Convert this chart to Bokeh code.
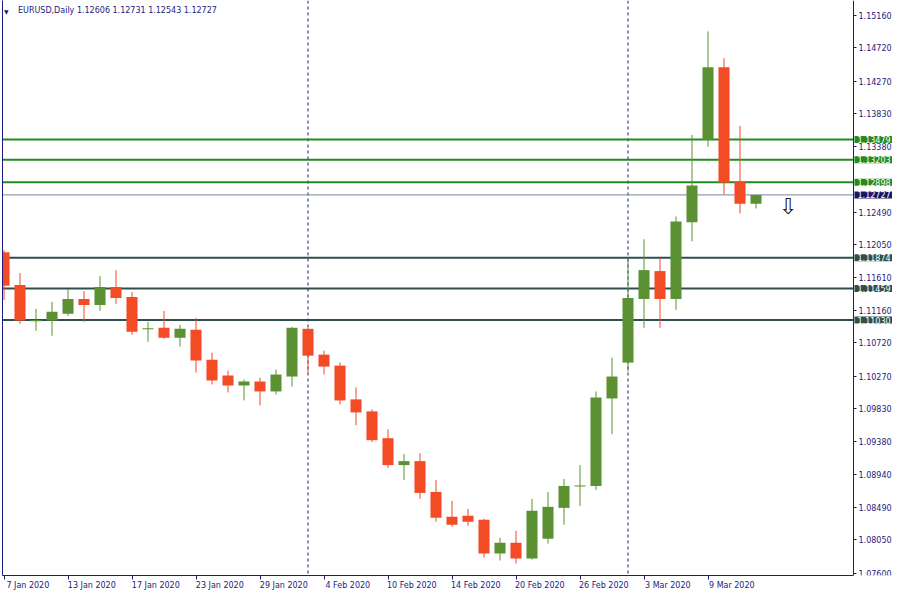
from bokeh.plotting import figure
from bokeh.models import (Range1d, LinearAxis, FixedTicker, Span, Label,
                          ColumnDataSource, PrintfTickFormatter)
from bokeh.core.properties import value
from bokeh.embed import file_html
from bokeh.resources import INLINE

symbol = "EURUSD"
period = "Daily"

dates = ["7 Jan 2020", "8 Jan 2020", "9 Jan 2020", "10 Jan 2020", "13 Jan 2020",
         "14 Jan 2020", "15 Jan 2020", "16 Jan 2020", "17 Jan 2020", "20 Jan 2020",
         "21 Jan 2020", "22 Jan 2020", "23 Jan 2020", "24 Jan 2020", "27 Jan 2020",
         "28 Jan 2020", "29 Jan 2020", "30 Jan 2020", "31 Jan 2020",
         "3 Feb 2020", "4 Feb 2020", "5 Feb 2020", "6 Feb 2020", "7 Feb 2020",
         "10 Feb 2020", "11 Feb 2020", "12 Feb 2020", "13 Feb 2020", "14 Feb 2020",
         "17 Feb 2020", "18 Feb 2020", "19 Feb 2020", "20 Feb 2020", "21 Feb 2020",
         "24 Feb 2020", "25 Feb 2020", "26 Feb 2020", "27 Feb 2020", "28 Feb 2020",
         "2 Mar 2020", "3 Mar 2020", "4 Mar 2020", "5 Mar 2020", "6 Mar 2020",
         "9 Mar 2020", "10 Mar 2020", "11 Mar 2020", "12 Mar 2020"]

opens = [1.11950, 1.11505, 1.11015, 1.11025, 1.11114, 1.11316, 1.11235, 1.11478,
         1.11343, 1.10905, 1.10925, 1.10790, 1.10898, 1.10493, 1.10277, 1.10142,
         1.10196, 1.10062, 1.10264, 1.10911, 1.10561, 1.10412, 1.09954, 1.09792,
         1.09428, 1.09063, 1.09117, 1.08699, 1.08362, 1.08376, 1.08322, 1.07863,
         1.08011, 1.07796, 1.08065, 1.08483, 1.08773, 1.08780, 1.09967, 1.10453,
         1.11316, 1.11694, 1.11316, 1.12355, 1.13474, 1.14459, 1.12908, 1.12606]
highs = [1.11977, 1.11667, 1.11181, 1.11276, 1.11451, 1.11424, 1.11626, 1.11707,
         1.11410, 1.11006, 1.11154, 1.10965, 1.11060, 1.10588, 1.10345, 1.10223,
         1.10250, 1.10358, 1.10938, 1.10925, 1.10615, 1.10453, 1.10116, 1.09819,
         1.09549, 1.09212, 1.09225, 1.08861, 1.08578, 1.08470, 1.08335, 1.08079,
         1.08173, 1.08605, 1.08699, 1.08875, 1.09063, 1.10062, 1.10520, 1.11855,
         1.12125, 1.11869, 1.12435, 1.13541, 1.14944, 1.14580, 1.13663, 1.12731]
lows = [1.11302, 1.10979, 1.10884, 1.10817, 1.11087, 1.11006, 1.11154, 1.11249,
        1.10830, 1.10736, 1.10776, 1.10669, 1.10318, 1.10156, 1.10048, 1.09940,
        1.09873, 1.10021, 1.10129, 1.10318, 1.10291, 1.09886, 1.09603, 1.09374,
        1.09023, 1.08861, 1.08605, 1.08295, 1.08227, 1.08241, 1.07809, 1.07769,
        1.07728, 1.07782, 1.07998, 1.08254, 1.08510, 1.08726, 1.09482, 1.10331,
        1.10925, 1.10925, 1.11168, 1.12098, 1.13380, 1.12732, 1.12476, 1.12543]
closes = [1.11496, 1.11025, 1.11032, 1.11141, 1.11316, 1.11235, 1.11478, 1.11329,
          1.10871, 1.10918, 1.10790, 1.10911, 1.10480, 1.10210, 1.10142, 1.10196,
          1.10062, 1.10291, 1.10925, 1.10547, 1.10399, 1.09940, 1.09778, 1.09401,
          1.09063, 1.09117, 1.08686, 1.08349, 1.08254, 1.08295, 1.07863, 1.08011,
          1.07796, 1.08443, 1.08497, 1.08780, 1.08787, 1.09981, 1.10264, 1.11329,
          1.11707, 1.11316, 1.12368, 1.12854, 1.14459, 1.12894, 1.12606, 1.12727]

resistance_levels = [1.13479, 1.13203, 1.12898]
support_levels = [1.11874, 1.11459, 1.11030]
price_ticks = [1.07600, 1.08050, 1.08490, 1.08940, 1.09380, 1.09830, 1.10270,
               1.10720, 1.11160, 1.11610, 1.12050, 1.12490, 1.13380, 1.13830,
               1.14270, 1.14720, 1.15160]
date_tick_step = 4
sell_arrow_index = 49
sell_arrow_price = 1.12570

# ---- styling
UP = "#5B9132"
DOWN = "#F34B26"
FG = "#1B1B7E"
GREEN_LVL = "#228B22"
DARK_LVL = "#2F4F4F"
CUR = "#778899"
CUR_BOX = "#17176A"
FONT = "DejaVu Sans"
FS_PX = 8
FS = f"{FS_PX}px"

n = len(dates)
idx = list(range(n))
colors = [UP if c >= o else DOWN for o, c in zip(opens, closes)]
tops = [max(o, c) for o, c in zip(opens, closes)]
bottoms = [min(o, c) for o, c in zip(opens, closes)]
src = ColumnDataSource(dict(i=idx, h=highs, l=lows, top=tops, bottom=bottoms, color=colors))

# geometry (pixels)
W, H = 892, 592
BORDER_L, BORDER_B = 2, 16
PX_PER_BAR = 16.0
SCALE_AT_PX = 851          # price scale position, from the frame's left edge
frame_w = W - BORDER_L
frame_h = H - BORDER_B
x_start = -1.5 / PX_PER_BAR
x_end = x_start + frame_w / PX_PER_BAR
x_scale = x_start + SCALE_AT_PX / PX_PER_BAR
px_price = (price_ticks[-1] - price_ticks[0]) / 558.5
y_hi = price_ticks[-1] + 15 * px_price
y_lo = y_hi - frame_h * px_price

p = figure(width=W, height=H, output_backend="svg", toolbar_location=None,
           x_range=Range1d(x_start, x_end), y_range=Range1d(y_lo, y_hi),
           y_axis_location="right", min_border_left=BORDER_L, min_border_top=0,
           min_border_right=0, min_border_bottom=BORDER_B)
p.outline_line_color = None
p.grid.visible = False
p.background_fill_color = "white"

# month separators (first trading day of a new month)
for k in range(1, n):
    if dates[k].split()[1] != dates[k - 1].split()[1]:
        p.add_layout(Span(location=k, dimension="height", line_color=FG,
                          line_dash="3 3", line_width=1, level="underlay"))


# horizontal levels (drawn behind the candles) with their price tags on the scale
def level(prices, color, width, box_color):
    m = len(prices)
    p.segment(x0=[x_start] * m, x1=[x_scale] * m, y0=prices, y1=prices,
              line_color=color, line_width=width)
    for price in prices:
        kw = dict(x=x_scale, y=price, x_offset=1, text=f"{price:.5f}", text_font=FONT,
                  text_font_size=FS, text_color="white", text_align="left",
                  text_baseline="middle", background_fill_color=box_color,
                  level="overlay")
        try:
            lab = Label(padding=(3, 0), **kw)
        except Exception:
            lab = Label(**kw)
        p.add_layout(lab)


level(resistance_levels, GREEN_LVL, 2, GREEN_LVL)
level(support_levels, DARK_LVL, 2, DARK_LVL)
level([closes[-1]], CUR, 1, CUR_BOX)

# candles
p.segment(x0="i", y0="h", x1="i", y1="l", line_color="color", line_width=1, source=src)
p.vbar(x="i", top="top", bottom="bottom", width=0.69, fill_color="color",
       line_color=None, source=src)

# sell arrow
p.text(x=[sell_arrow_index], y=[sell_arrow_price], text=["⇩"], text_font=value(FONT),
       text_font_size="22px", text_color="#202020", text_align="center",
       text_baseline="middle")

# header
p.add_layout(Label(x=x_start, y=y_hi, x_offset=1.5, y_offset=-7, text="▼",
                   text_font=FONT, text_font_size="6px", text_color=FG,
                   text_baseline="top"))
header = f"{symbol},{period}  {opens[-1]:.5f} {highs[-1]:.5f} {lows[-1]:.5f} {closes[-1]:.5f}"
p.add_layout(Label(x=x_start, y=y_hi, x_offset=15.5, y_offset=-5, text=header,
                   text_font=FONT, text_font_size=FS, text_color=FG,
                   text_baseline="top"))

# ---- date axis: labels start at the date, tick marks (minor ticks) at the date
tick_idx = idx[::date_tick_step]
EM = {" ": 0.318, "J": 0.295, "a": 0.613, "n": 0.634, "F": 0.575, "e": 0.615,
      "b": 0.635, "M": 0.863, "r": 0.411}


def text_px(s):
    return sum(EM.get(ch, 0.636) for ch in s) * FS_PX


half_w = sum(text_px(dates[i]) for i in tick_idx) / len(tick_idx) / 2.0 / PX_PER_BAR
p.extra_x_ranges = {"date_labels": Range1d(x_start - half_w, x_end - half_w)}
xa = p.xaxis[0]
xa.x_range_name = "date_labels"
xa.ticker = FixedTicker(ticks=tick_idx, minor_ticks=[i - half_w for i in tick_idx])
xa.major_label_overrides = {i: dates[i] for i in tick_idx}
xa.bounds = (x_start - half_w, x_scale - half_w)
xa.axis_line_color = FG
xa.major_tick_line_color = None
xa.major_tick_out = 4
xa.major_tick_in = 0
xa.minor_tick_line_color = FG
xa.minor_tick_out = 4
xa.minor_tick_in = 0
xa.major_label_standoff = 1
xa.major_label_text_font = FONT
xa.major_label_text_font_size = FS
xa.major_label_text_color = FG

# ---- price scale, drawn at a fixed position inside the frame
ya = p.yaxis[0]
ya.fixed_location = x_scale
ya.ticker = FixedTicker(ticks=price_ticks)
ya.formatter = PrintfTickFormatter(format="%.5f")
ya.axis_line_color = FG
ya.major_tick_line_color = FG
ya.major_tick_out = 3
ya.major_tick_in = 0
ya.minor_tick_line_color = None
ya.major_label_standoff = 2
ya.major_label_text_font = FONT
ya.major_label_text_font_size = FS
ya.major_label_text_color = FG

la = LinearAxis(ticker=FixedTicker(ticks=[]), axis_line_color=FG,
                major_tick_line_color=None, minor_tick_line_color=None,
                major_label_standoff=0)
p.add_layout(la, "left")

open("out.html", "w").write(file_html(p, INLINE))
